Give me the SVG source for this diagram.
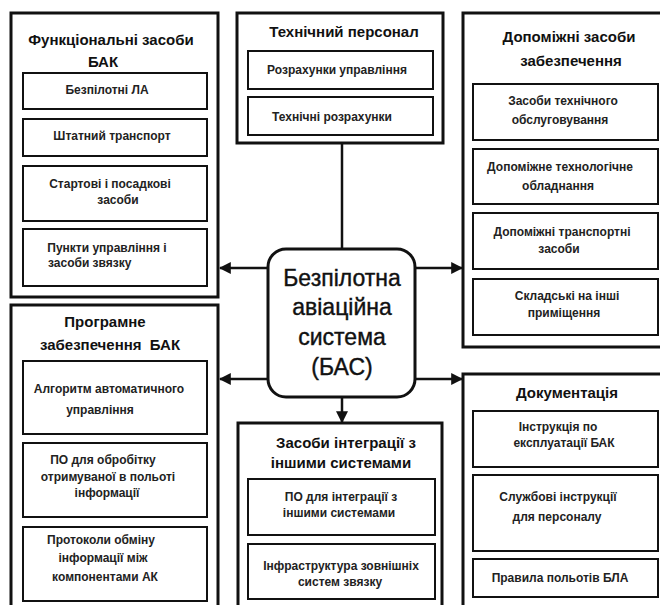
<svg xmlns="http://www.w3.org/2000/svg" width="660" height="605" viewBox="0 0 660 605">
<defs>
<style>
.outer{fill:#fff;stroke:#111;stroke-width:3}
.inner{fill:#fff;stroke:#111;stroke-width:2}
.t{font-family:"Liberation Sans",Arial,sans-serif;font-weight:bold;font-size:15px;fill:#111;text-anchor:middle}
.s{font-family:"Liberation Sans",Arial,sans-serif;font-weight:bold;font-size:12px;fill:#222;text-anchor:middle}
.c{font-family:"Liberation Sans",Arial,sans-serif;font-size:23px;fill:#111;stroke:#111;stroke-width:0.4;text-anchor:middle}
.ln{stroke:#111;stroke-width:2.5;fill:none}
</style>
<marker id="ah" viewBox="0 0 10 10" refX="9" refY="5" markerWidth="4.8" markerHeight="4.8" markerUnits="strokeWidth" orient="auto">
<path d="M0,0 L10,5 L0,10 z" fill="#111"/>
</marker>
</defs>
<rect width="660" height="605" fill="#fff"/>

<g id="functional">
<rect class="outer" x="11" y="13" width="207" height="284"/>
<text class="t" x="111" y="45">Функціональні засоби</text>
<text class="t" x="103" y="67">БАК</text>
<rect class="inner" x="23" y="73" width="184" height="36"/>
<text class="s" x="107" y="94">Безпілотні ЛА</text>
<rect class="inner" x="23" y="119" width="184" height="37"/>
<text class="s" x="112" y="140">Штатний транспорт</text>
<rect class="inner" x="23" y="166" width="184" height="55"/>
<text class="s" x="110" y="188">Стартові і посадкові</text>
<text class="s" x="118" y="204">засоби</text>
<rect class="inner" x="23" y="229" width="184" height="57"/>
<text class="s" x="107" y="252">Пункти управління і</text>
<text class="s" x="48" y="267" style="text-anchor:start">засоби звязку</text>
</g>

<g id="personnel">
<rect class="outer" x="237" y="13" width="206" height="130"/>
<text class="t" x="344" y="37">Технічний персонал</text>
<rect class="inner" x="248" y="51" width="185" height="38"/>
<text class="s" x="337" y="74">Розрахунки управління</text>
<rect class="inner" x="248" y="97" width="185" height="38"/>
<text class="s" x="332" y="121">Технічні розрахунки</text>
</g>

<g id="support">
<rect class="outer" x="463" y="13" width="200" height="334"/>
<text class="t" x="569" y="42">Допоміжні засоби</text>
<text class="t" x="571" y="66">забезпечення</text>
<rect class="inner" x="473" y="84" width="185" height="56"/>
<text class="s" x="563" y="105">Засоби технічного</text>
<text class="s" x="560" y="124">обслуговування</text>
<rect class="inner" x="473" y="149" width="185" height="55"/>
<text class="s" x="560" y="171">Допоміжне технологічне</text>
<text class="s" x="558" y="190">обладнання</text>
<rect class="inner" x="473" y="213" width="185" height="56"/>
<text class="s" x="562" y="236">Допоміжні транспортні</text>
<text class="s" x="559" y="253">засоби</text>
<rect class="inner" x="473" y="279" width="185" height="56"/>
<text class="s" x="567" y="300">Складські на інші</text>
<text class="s" x="564" y="317">приміщення</text>
</g>

<g id="software">
<rect class="outer" x="11" y="305" width="207" height="310"/>
<text class="t" x="105" y="327">Програмне</text>
<text class="t" x="110" y="350" xml:space="preserve">забезпечення  БАК</text>
<rect class="inner" x="23" y="361" width="184" height="73"/>
<text class="s" x="109" y="393">Алгоритм автоматичного</text>
<text class="s" x="100" y="414">управління</text>
<rect class="inner" x="23" y="443" width="184" height="74"/>
<text class="s" x="103" y="464">ПО для обробітку</text>
<text class="s" x="108" y="481">отримуваної в польоті</text>
<text class="s" x="107" y="497">інформації</text>
<rect class="inner" x="23" y="527" width="184" height="74"/>
<text class="s" x="101" y="544">Протоколи обміну</text>
<text class="s" x="103" y="562">інформації між</text>
<text class="s" x="105" y="581">компонентами АК</text>
</g>

<g id="integration">
<rect class="outer" x="238" y="423" width="204" height="190"/>
<text class="t" x="346" y="448">Засоби інтеграції з</text>
<text class="t" x="341" y="468">іншими системами</text>
<rect class="inner" x="248" y="479" width="187" height="56"/>
<text class="s" x="341" y="501">ПО для інтеграції з</text>
<text class="s" x="339" y="517">іншими системами</text>
<rect class="inner" x="248" y="544" width="187" height="55"/>
<text class="s" x="341" y="570">Інфраструктура зовнішніх</text>
<text class="s" x="340" y="586">систем звязку</text>
</g>

<g id="documentation">
<rect class="outer" x="463" y="374" width="200" height="240"/>
<text class="t" x="567" y="398">Документація</text>
<rect class="inner" x="473" y="411" width="185" height="56"/>
<text class="s" x="558" y="431">Інструкція по</text>
<text class="s" x="564" y="447">експлуатації БАК</text>
<rect class="inner" x="473" y="475" width="185" height="76"/>
<text class="s" x="558" y="501">Службові інструкції</text>
<text class="s" x="557" y="521">для персоналу</text>
<rect class="inner" x="473" y="559" width="185" height="38"/>
<text class="s" x="560" y="582">Правила польотів БЛА</text>
</g>

<g id="connectors">
<line class="ln" x1="342" y1="143" x2="342" y2="249"/>
<line class="ln" x1="268" y1="268" x2="220" y2="268" marker-end="url(#ah)"/>
<line class="ln" x1="268" y1="379" x2="220" y2="379" marker-end="url(#ah)"/>
<line class="ln" x1="415" y1="268" x2="462" y2="268" marker-end="url(#ah)"/>
<line class="ln" x1="415" y1="379" x2="462" y2="379" marker-end="url(#ah)"/>
<line class="ln" x1="342" y1="397" x2="342" y2="422" marker-end="url(#ah)"/>
</g>

<g id="bas">
<rect x="268" y="249" width="147" height="148" rx="18" ry="18" fill="#fff" stroke="#111" stroke-width="3"/>
<text class="c" x="342" y="286">Безпілотна</text>
<text class="c" x="342" y="315">авіаційна</text>
<text class="c" x="342" y="345">система</text>
<text class="c" x="342" y="375">(БАС)</text>
</g>
</svg>
